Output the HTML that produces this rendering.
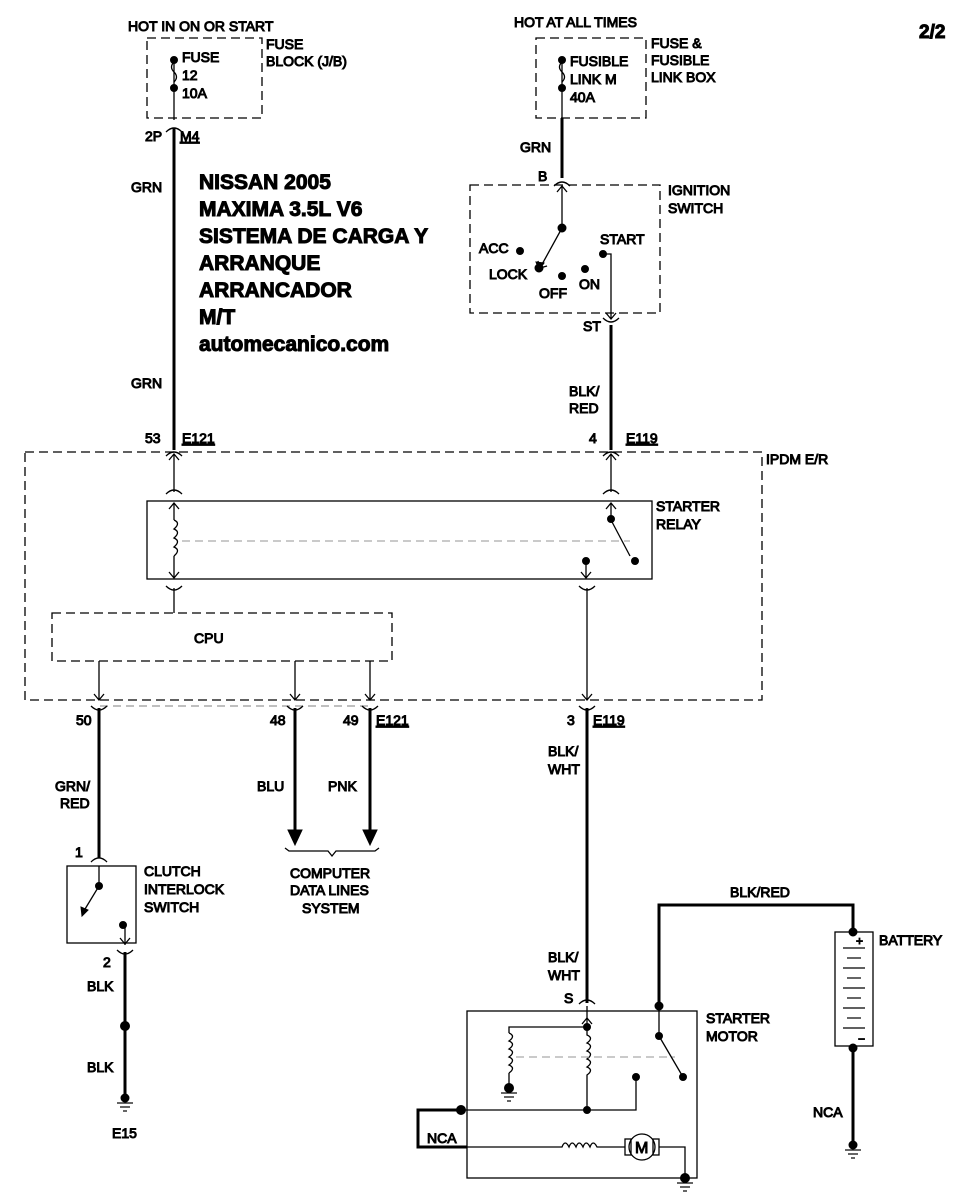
<!DOCTYPE html>
<html><head><meta charset="utf-8"><style>
html,body{margin:0;padding:0;background:#fff;}
svg{display:block;}
text{font-family:"Liberation Sans",Arial,sans-serif;font-size:14px;fill:#000;}
.b{font-weight:bold;font-size:21px;}
</style></head><body>
<svg width="963" height="1198" viewBox="0 0 963 1198" xmlns="http://www.w3.org/2000/svg">
<defs>
<marker id="oa" markerWidth="10" markerHeight="10" refX="5" refY="5" orient="auto"><path d="M1,1 L5,5 L1,9" fill="none" stroke="#000" stroke-width="1"/></marker>
</defs>
<g fill="none" stroke="#000">
<g stroke-dasharray="9,5" stroke-width="1.3">
<rect x="147" y="38" width="115" height="80"/>
<rect x="536" y="38" width="110" height="80"/>
<rect x="470" y="185" width="190" height="128"/>
<rect x="25" y="452" width="737" height="248"/>
<rect x="52" y="613" width="340" height="48"/>
</g>
<g stroke-width="3">
<line x1="174" y1="128" x2="174" y2="450"/>
<line x1="562" y1="118" x2="562" y2="178"/>
<line x1="611" y1="325" x2="611" y2="450"/>
<line x1="99" y1="708" x2="99" y2="858"/>
<line x1="295" y1="708" x2="295" y2="830"/>
<line x1="370" y1="708" x2="370" y2="830"/>
<line x1="587" y1="708" x2="587" y2="1003"/>
<line x1="125" y1="952" x2="125" y2="1095"/>
<path d="M659 1005 V905 H853 V932"/>
<line x1="853" y1="1048" x2="853" y2="1145"/>
<path d="M464 1110 H418 V1147 H467"/>
</g>
<g stroke-width="1.3">
<line x1="174" y1="60" x2="174" y2="120"/>
<path d="M174 62 q-5 5 0 10 q5 5 0 10" />
<line x1="562" y1="60" x2="562" y2="120"/>
<path d="M562 62 q-5 5 0 10 q5 5 0 10"/>
<line x1="562" y1="186" x2="562" y2="228"/>
<line x1="562" y1="228" x2="540" y2="268" marker-end="url(#oa)"/>
<path d="M604 254 H611 V318"/>
<line x1="174" y1="454" x2="174" y2="492"/>
<line x1="611" y1="454" x2="611" y2="492"/>
<line x1="174" y1="503" x2="174" y2="520"/>
<path d="M174 520 q7 3 0 9 q7 3 0 9 q7 3 0 9 q7 3 0 9"/>
<line x1="174" y1="556" x2="174" y2="578"/>
<line x1="174" y1="588" x2="174" y2="613"/>
<line x1="611" y1="503" x2="611" y2="520"/>
<line x1="611" y1="520" x2="630" y2="556"/>
<line x1="586" y1="561" x2="586" y2="578"/>
<line x1="587" y1="588" x2="587" y2="700"/>
<line x1="99" y1="661" x2="99" y2="700"/>
<line x1="295" y1="661" x2="295" y2="700"/>
<line x1="370" y1="661" x2="370" y2="700"/>
<line x1="100" y1="706" x2="370" y2="706" stroke="#999" stroke-dasharray="8,5"/>
<line x1="182" y1="541" x2="630" y2="541" stroke="#aaa" stroke-dasharray="8,5"/>
<rect x="147" y="501" width="505" height="78"/>
<rect x="67" y="866" width="69" height="77"/>
<line x1="99" y1="866" x2="99" y2="886"/>
<line x1="99" y1="886" x2="82" y2="914"/>
<line x1="125" y1="925" x2="125" y2="945"/>
<path d="M285 848 l4 3 H328 l4 5 l4 -5 H375 l4 -3"/>
<rect x="467" y="1011" width="230" height="167"/>
<line x1="587" y1="1006" x2="587" y2="1027"/>
<path d="M587 1027 H509 V1033"/>
<path d="M509 1033 q7 3 0 8 q7 3 0 8 q7 3 0 8 q7 3 0 8 q7 3 0 8"/>
<line x1="509" y1="1073" x2="509" y2="1088"/>
<path d="M587 1027 v8 q7 3 0 8 q7 3 0 8 q7 3 0 8 q7 3 0 8 q7 3 0 8 V1110"/>
<line x1="516" y1="1057" x2="675" y2="1057" stroke="#aaa" stroke-dasharray="8,5"/>
<path d="M464 1110 H636 V1078"/>
<line x1="659" y1="1005" x2="659" y2="1036"/>
<line x1="659" y1="1036" x2="683" y2="1077"/>
<path d="M467 1147 H562 q3 -8 7 0 q3 -8 7 0 q3 -8 7 0 q3 -8 7 0 q3 -8 7 0 H625"/>
<rect x="625" y="1139" width="6" height="16"/>
<circle cx="642" cy="1147" r="13"/>
<rect x="653" y="1139" width="6" height="16"/>
<path d="M659 1147 H685 V1178"/>
<rect x="835" y="932" width="38" height="114"/>
</g>
<g stroke="#000" stroke-width="1.2">
<line x1="843" y1="948" x2="865" y2="948"/><line x1="847" y1="958" x2="861" y2="958"/>
<line x1="843" y1="968" x2="865" y2="968"/><line x1="847" y1="978" x2="861" y2="978"/>
<line x1="843" y1="988" x2="865" y2="988"/><line x1="847" y1="998" x2="861" y2="998"/>
<line x1="843" y1="1008" x2="865" y2="1008"/><line x1="847" y1="1018" x2="861" y2="1018"/>
<line x1="843" y1="1028" x2="865" y2="1028"/>
</g>
<g fill="none" stroke="#000" stroke-width="1.3">
<path d="M166 132 q8 -8 16 0"/><path d="M554 186 q8 -8 16 0"/>
<path d="M603 318 q8 8 16 0"/><path d="M166 456 q8 -8 16 0"/><path d="M603 456 q8 -8 16 0"/>
<path d="M166 494 q8 -8 16 0"/><path d="M603 494 q8 -8 16 0"/>
<path d="M166 586 q8 8 16 0"/><path d="M579 586 q8 8 16 0"/>
<path d="M91 706 q8 8 16 0"/><path d="M287 706 q8 8 16 0"/><path d="M362 706 q8 8 16 0"/><path d="M579 706 q8 8 16 0"/>
<path d="M91 862 q8 -8 16 0"/><path d="M117 950 q8 8 16 0"/><path d="M579 1004 q8 -8 16 0"/>
<path d="M557 192 l5 -6 l5 6"/><path d="M606 313 l5 6 l5 -6"/>
<path d="M169 460 l5 -6 l5 6"/><path d="M606 460 l5 -6 l5 6"/>
<path d="M169 509 l5 -6 l5 6"/><path d="M606 509 l5 -6 l5 6"/>
<path d="M169 572 l5 6 l5 -6"/><path d="M581 572 l5 6 l5 -6"/>
<path d="M94 694 l5 6 l5 -6"/><path d="M290 694 l5 6 l5 -6"/><path d="M365 694 l5 6 l5 -6"/><path d="M582 694 l5 6 l5 -6"/>
<path d="M120 938 l5 6 l5 -6"/><path d="M582 1024 l5 -6 l5 6"/>
</g>
<g fill="#000">
<polygon points="288,830 302,830 295,845"/><polygon points="363,830 377,830 370,845"/>
<polygon points="539,270 536,262 544,263"/>
<polygon points="82,916 81,907 88,910"/>
<circle cx="174" cy="60" r="3.5"/><circle cx="174" cy="88" r="3.5"/>
<circle cx="562" cy="60" r="3.5"/><circle cx="562" cy="88" r="3.5"/>
<circle cx="562" cy="228" r="4"/><circle cx="520" cy="251" r="3.5"/><circle cx="539" cy="268" r="4"/>
<circle cx="562" cy="276" r="3.5"/><circle cx="585" cy="269" r="3.5"/><circle cx="603" cy="254" r="3.5"/>
<circle cx="611" cy="519" r="3.5"/><circle cx="635" cy="561" r="3.5"/><circle cx="586" cy="561" r="3.5"/>
<circle cx="99" cy="886" r="3.5"/><circle cx="123" cy="925" r="3.5"/>
<circle cx="125" cy="1026" r="4.5"/>
<circle cx="659" cy="1006" r="4"/><circle cx="659" cy="1036" r="3.5"/><circle cx="683" cy="1077" r="3.5"/>
<circle cx="587" cy="1027" r="3.5"/><circle cx="636" cy="1077" r="3.5"/><circle cx="587" cy="1110" r="3.5"/>
<circle cx="461" cy="1110" r="4.5"/><circle cx="509" cy="1088" r="4.5"/><circle cx="685" cy="1178" r="4.5"/>
<circle cx="853" cy="932" r="4"/><circle cx="853" cy="1048" r="4"/><circle cx="853" cy="1145" r="4"/>
<circle cx="125" cy="1098" r="4"/>
</g>
<g stroke="#000" stroke-width="1.2">
<line x1="117" y1="1103" x2="133" y2="1103"/><line x1="120" y1="1107" x2="130" y2="1107"/><line x1="123" y1="1111" x2="127" y2="1111"/>
<line x1="501" y1="1093" x2="517" y2="1093"/><line x1="504" y1="1097" x2="514" y2="1097"/><line x1="507" y1="1101" x2="511" y2="1101"/>
<line x1="677" y1="1183" x2="693" y2="1183"/><line x1="680" y1="1187" x2="690" y2="1187"/><line x1="683" y1="1191" x2="687" y2="1191"/>
<line x1="845" y1="1150" x2="861" y2="1150"/><line x1="848" y1="1154" x2="858" y2="1154"/><line x1="851" y1="1158" x2="855" y2="1158"/>
</g>
<text x="128" y="31">HOT IN ON OR START</text>
<text x="182" y="62">FUSE</text><text x="182" y="80">12</text><text x="182" y="98">10A</text>
<text x="266" y="49">FUSE</text><text x="266" y="66">BLOCK (J/B)</text>
<text x="145" y="141">2P</text><text x="180" y="141" text-decoration="underline">M4</text>
<text x="131" y="192">GRN</text><text x="131" y="388">GRN</text>
<text x="514" y="27">HOT AT ALL TIMES</text>
<text x="570" y="66">FUSIBLE</text><text x="570" y="84">LINK M</text><text x="570" y="102">40A</text>
<text x="651" y="48">FUSE &amp;</text><text x="651" y="65">FUSIBLE</text><text x="651" y="82">LINK BOX</text>
<text x="919" y="38" style="font-weight:bold;font-size:19px">2/2</text>
<text x="520" y="152">GRN</text><text x="538" y="181">B</text>
<text x="668" y="195">IGNITION</text><text x="668" y="213">SWITCH</text>
<text x="479" y="253">ACC</text><text x="489" y="279">LOCK</text><text x="539" y="298">OFF</text><text x="579" y="289">ON</text><text x="600" y="244">START</text>
<text x="583" y="331">ST</text>
<text x="569" y="396">BLK/</text><text x="569" y="413">RED</text>
<text class="b" x="199" y="189">NISSAN 2005</text>
<text class="b" x="199" y="216">MAXIMA 3.5L V6</text>
<text class="b" x="199" y="243">SISTEMA DE CARGA Y</text>
<text class="b" x="199" y="270">ARRANQUE</text>
<text class="b" x="199" y="297">ARRANCADOR</text>
<text class="b" x="199" y="324">M/T</text>
<text class="b" x="199" y="351">automecanico.com</text>
<text x="145" y="443">53</text><text x="182" y="443" text-decoration="underline">E121</text>
<text x="589" y="443">4</text><text x="626" y="443" text-decoration="underline">E119</text>
<text x="766" y="464">IPDM E/R</text>
<text x="656" y="511">STARTER</text><text x="656" y="529">RELAY</text>
<text x="194" y="643">CPU</text>
<text x="76" y="725">50</text><text x="270" y="725">48</text><text x="343" y="725">49</text><text x="376" y="725" text-decoration="underline">E121</text>
<text x="567" y="725">3</text><text x="593" y="725" text-decoration="underline">E119</text>
<text x="548" y="756">BLK/</text><text x="548" y="774">WHT</text>
<text x="55" y="791">GRN/</text><text x="60" y="808">RED</text>
<text x="257" y="791">BLU</text><text x="328" y="791">PNK</text>
<text x="75" y="857">1</text>
<text x="144" y="876">CLUTCH</text><text x="144" y="894">INTERLOCK</text><text x="144" y="912">SWITCH</text>
<text x="290" y="878">COMPUTER</text><text x="290" y="895">DATA LINES</text><text x="302" y="913">SYSTEM</text>
<text x="103" y="967">2</text><text x="87" y="991">BLK</text><text x="87" y="1072">BLK</text><text x="112" y="1138">E15</text>
<text x="730" y="897">BLK/RED</text>
<text x="879" y="945">BATTERY</text><text x="856" y="945" style="font-size:12px">+</text><text x="858" y="1043" style="font-size:12px">−</text>
<text x="548" y="962">BLK/</text><text x="548" y="980">WHT</text><text x="564" y="1003">S</text>
<text x="706" y="1023">STARTER</text><text x="706" y="1041">MOTOR</text>
<text x="427" y="1143">NCA</text><text x="813" y="1117">NCA</text>
<text x="635" y="1153" style="font-size:16px">M</text>
</svg>
</body></html>
